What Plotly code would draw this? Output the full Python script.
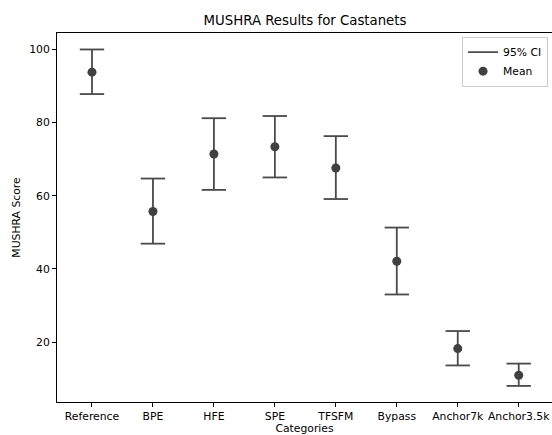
import plotly.graph_objects as go

# MUSHRA listening test results for the castanets excerpt
categories = ["Reference", "BPE", "HFE", "SPE", "TFSFM", "Bypass", "Anchor7k", "Anchor3.5k"]
mean_scores = [93.8, 55.7, 71.4, 73.4, 67.6, 42.1, 18.2, 10.9]
ci_low = [87.8, 46.9, 61.6, 65.0, 59.1, 33.0, 13.6, 8.0]
ci_high = [100.0, 64.7, 81.2, 81.8, 76.3, 51.3, 23.0, 14.1]
y_ticks = [20, 40, 60, 80, 100]

CAP_HALF = 0.2
INK = "#4a4a4a"
FONT = "DejaVu Sans, Liberation Sans, sans-serif"

positions = list(range(len(categories)))

# build the interval whiskers with caps as one line trace
ci_x, ci_y = [], []
for i, lo, hi in zip(positions, ci_low, ci_high):
    ci_x += [i, i, None, i - CAP_HALF, i + CAP_HALF, None, i - CAP_HALF, i + CAP_HALF, None]
    ci_y += [lo, hi, None, lo, lo, None, hi, hi, None]

fig = go.Figure()
fig.add_trace(go.Scatter(
    x=ci_x, y=ci_y, mode="lines", name="95% CI",
    line=dict(color=INK, width=1.8), hoverinfo="skip",
))
fig.add_trace(go.Scatter(
    x=positions, y=mean_scores, mode="markers", name="Mean",
    marker=dict(color="#404040", size=9),
))

fig.update_layout(
    width=552, height=435,
    margin=dict(l=57, r=0, t=33, b=33),
    paper_bgcolor="white", plot_bgcolor="white",
    font=dict(family=FONT, size=10.8, color="black"),
    title=dict(text="MUSHRA Results for Castanets", x=305 / 552, xanchor="center",
               y=1 - 20 / 435, yanchor="middle", font=dict(size=13.3, color="black")),
    showlegend=True,
    legend=dict(x=0.992, xanchor="right", y=0.99, yanchor="top",
                bordercolor="#cccccc", borderwidth=1, bgcolor="white",
                font=dict(size=10.8), itemwidth=30, tracegroupgap=0),
)
fig.update_xaxes(
    range=[-0.574, 7.546], tickmode="array", tickvals=positions, ticktext=categories,
    showgrid=False, zeroline=False, showline=True, linecolor="black", linewidth=1,
    mirror=True, ticks="outside", ticklen=4, tickcolor="black",
    title=dict(text="Categories", standoff=4, font=dict(size=10.8)),
)
fig.update_yaxes(
    range=[3.6, 104.5], tickmode="array", tickvals=y_ticks,
    showgrid=False, zeroline=False, showline=True, linecolor="black", linewidth=1,
    ticks="outside", ticklen=4, tickcolor="black",
    title=dict(text="MUSHRA Score", standoff=6, font=dict(size=10.8)),
)

fig.write_html("out.html")
